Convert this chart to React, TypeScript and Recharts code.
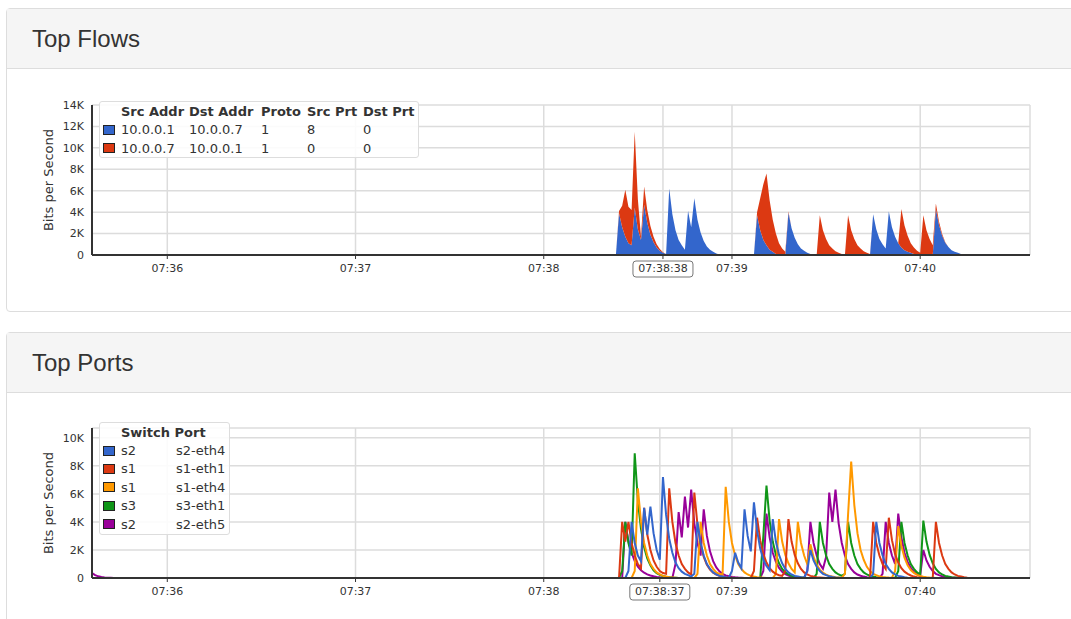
import React from 'react';
import { AreaChart, Area, LineChart, Line, XAxis, YAxis, CartesianGrid, Label } from 'recharts';

// time axis: seconds after 07:35:00, one sample per second from T0
const T0 = 200;
const T_END = 335;
const X_DOMAIN: [number, number] = [36, T_END];
const MINUTE_TICKS = [60, 120, 180, 240, 300];
const FLOWS_CURSOR = 218; // 07:38:38
const PORTS_CURSOR = 217; // 07:38:37

const FLOW_TICKS = [0, 2, 4, 6, 8, 10, 12, 14];
const PORT_TICKS = [0, 2, 4, 6, 8, 10];

// Top Flows, in K bits/s (stacked), t = 200..320
const FLOW_1 = [
  0, 0, 0, 0, 3.9, 2.6, 1.7, 1.1, 0.9, 4.4,
  2.4, 1.4, 4.7, 3.0, 1.9, 1.2, 0.7, 0.4, 0.2, 0.1,
  6.2, 3.8, 2.3, 1.4, 0.9, 0.5, 4.1, 2.6, 5.3, 3.3,
  2.1, 1.3, 0.8, 0.5, 0.3, 0.15, 0.05, 0, 0, 0,
  0, 0, 0, 0, 0, 0, 0, 0, 3.7, 2.3,
  1.4, 0.9, 0.5, 0.3, 0.1, 0, 0, 0, 3.95, 2.5,
  1.6, 1.0, 0.6, 0.4, 0.2, 0.1, 0, 0, 0, 0,
  0, 0, 0, 0, 0, 0, 0, 0, 0, 0,
  0, 0, 0, 0, 0, 3.8, 2.4, 1.5, 1.0, 0.6,
  4.05, 2.6, 1.7, 1.1, 0.7, 0.45, 0.3, 0.2, 0.1, 0.05,
  0, 0, 0, 0, 0, 4.3, 2.8, 1.8, 1.15, 0.75,
  0.45, 0.3, 0.2, 0.1, 0.05, 0.02, 0, 0, 0, 0, 0,
];
const FLOW_2 = [
  0, 0, 0, 0, 0.2, 2.0, 4.4, 3.4, 3.3, 7.1,
  2.8, 0.3, 1.7, 1.2, 0.8, 0.5, 0.3, 0.15, 0.05, 0,
  0, 0, 0, 0, 0, 0, 0, 0, 0, 0,
  0, 0, 0, 0, 0, 0, 0, 0, 0, 0,
  0, 0, 0, 0, 0, 0, 0, 0, 0.3, 3.0,
  5.2, 6.7, 4.6, 3.0, 1.9, 1.1, 0.6, 0.3, 0.1, 0,
  0, 0, 0, 0, 0, 0, 0, 0, 3.7, 2.3,
  1.5, 0.9, 0.6, 0.35, 0.2, 0.1, 0, 3.7, 2.3, 1.5,
  0.9, 0.6, 0.35, 0.2, 0.1, 0, 0, 0, 0, 0,
  0, 0, 0, 0, 3.6, 2.3, 1.5, 0.9, 0.6, 0.35,
  0.2, 3.7, 2.3, 1.5, 0.9, 0.5, 0.3, 0.15, 0.05, 0,
  0, 0, 0, 0, 0, 0, 0, 0, 0, 0, 0,
];

// Top Ports, in K bits/s, t = 200..320
const PORT_S2_ETH4 = [
  0, 0, 0, 0, 0, 0, 0, 0.5, 4.0, 2.5,
  1.6, 1.2, 5.0, 3.1, 5.1, 3.2, 2.0, 1.3, 7.2, 4.5,
  2.8, 1.8, 1.1, 0.7, 0.45, 0.3, 0.2, 0.1, 0.3, 4.0,
  2.5, 1.6, 1.0, 0.65, 0.4, 0.25, 0.15, 0.1, 0.05, 0.02,
  0.5, 1.8, 1.1, 0.7, 4.9, 3.0, 1.9, 5.4, 3.4, 2.1,
  1.3, 0.85, 0.55, 4.2, 2.6, 1.65, 1.05, 0.65, 0.4, 0.25,
  0.15, 0.1, 0.05, 0.03, 0.5, 2.0, 1.25, 0.8, 0.5, 0.3,
  0.2, 0.12, 0.07, 0.04, 0.02, 0, 0, 0, 0, 0,
  0, 0, 0, 0, 0, 0.3, 4.0, 2.5, 1.6, 1.0,
  0.65, 0.4, 0.25, 0.15, 0.1, 0.05, 0.02, 0, 0, 0,
  0, 0, 0, 0, 0, 0, 0, 0, 0, 0,
  0, 0, 0, 0, 0, 0, 0, 0, 0, 0, 0,
];
const PORT_S1_ETH1 = [
  0, 0, 0, 0, 0, 4.0, 2.6, 4.0, 2.5, 1.6,
  1.0, 0.7, 5.0, 3.1, 2.0, 1.25, 0.8, 0.5, 0.35, 0.3,
  6.4, 4.0, 2.5, 1.6, 1.0, 0.65, 0.4, 0.25, 6.1, 3.8,
  2.4, 1.5, 0.95, 0.6, 0.38, 0.24, 0.15, 0.1, 0.06, 0.04,
  0.02, 0, 0, 0, 0, 0, 0, 0.5, 4.3, 2.7,
  1.7, 1.1, 0.7, 0.45, 0.3, 0.2, 0.15, 0.5, 4.2, 2.6,
  1.65, 1.05, 0.65, 0.4, 0.25, 0.15, 0.1, 0.06, 0.04, 0.02,
  0, 0, 0, 0, 0, 0, 0, 0, 0, 0,
  0, 0, 0, 0, 0, 4.0, 2.5, 1.6, 1.0, 0.65,
  4.3, 2.7, 1.7, 1.1, 0.7, 0.45, 0.3, 0.18, 0.1, 0.06,
  0.03, 0, 0, 0, 0, 4.0, 2.5, 1.6, 1.0, 0.65,
  0.4, 0.25, 0.15, 0.1, 0.05, 0.02, 0, 0, 0, 0, 0,
];
const PORT_S1_ETH4 = [
  0, 0, 0, 0, 0, 0, 0, 0, 0, 0.5,
  6.4, 4.0, 2.5, 1.6, 1.0, 0.65, 0.4, 0.25, 0.15, 0.1,
  0.06, 0.04, 0.02, 0, 0, 0, 0, 0, 0, 0.3,
  4.0, 2.5, 1.6, 1.0, 0.65, 0.4, 0.3, 0.25, 6.5, 4.0,
  2.5, 1.6, 1.0, 0.65, 0.4, 0.25, 0.15, 0.1, 0.06, 0.04,
  0.02, 0, 0, 0, 0.3, 4.2, 2.6, 1.65, 1.05, 0.65,
  0.4, 4.0, 2.5, 1.6, 1.0, 2.4, 1.5, 0.95, 0.6, 0.38,
  0.24, 0.15, 0.1, 0.06, 0.04, 0.02, 0.3, 4.5, 8.3, 5.2,
  3.2, 2.0, 1.3, 0.8, 0.5, 0.3, 0.2, 0.12, 0.08, 0.05,
  0.03, 0.02, 0.5, 3.7, 2.3, 1.45, 0.9, 0.57, 0.36, 0.22,
  0.14, 0.09, 0.05, 0.03, 0.02, 0, 0, 0, 0, 0,
  0, 0, 0, 0, 0, 0, 0, 0, 0, 0, 0,
];
const PORT_S3_ETH1 = [
  0, 0, 0, 0, 0, 0.5, 4.0, 2.5, 1.6, 8.9,
  5.5, 3.5, 2.2, 1.4, 0.9, 0.55, 0.35, 0.22, 0.14, 0.09,
  0.05, 0.03, 0.02, 0, 0, 0, 0, 0, 0, 0,
  0, 0, 0, 0, 0, 0, 0, 0, 0, 0,
  0, 0, 0, 0, 0, 0, 0, 0, 0, 0,
  3.0, 6.6, 4.1, 2.6, 1.65, 1.05, 0.65, 0.4, 0.25, 0.15,
  0.1, 0.06, 0.04, 0.02, 0, 0, 0, 0.3, 4.0, 2.5,
  1.6, 1.0, 0.65, 0.4, 0.25, 0.15, 0.3, 4.0, 2.5, 1.6,
  1.0, 0.65, 0.4, 0.25, 0.15, 0.1, 0.06, 0.04, 0.02, 0,
  0, 0, 0, 0.5, 4.0, 2.5, 1.6, 1.0, 0.65, 0.4,
  0.25, 4.1, 2.6, 1.65, 1.05, 0.65, 0.4, 0.25, 0.15, 0.1,
  0.06, 0.04, 0.02, 0, 0, 0, 0, 0, 0, 0, 0,
];
const PORT_S2_ETH5 = [
  0, 0, 0, 0, 0, 0, 4.0, 2.6, 1.8, 1.2,
  0.8, 0.55, 0.38, 0.26, 0.18, 0.12, 0.08, 0.05, 0.03, 0.02,
  0.01, 0, 1.0, 4.7, 2.9, 5.8, 3.6, 6.3, 3.9, 2.5,
  1.6, 4.9, 3.0, 1.9, 1.2, 0.75, 0.48, 0.3, 0.19, 0.12,
  0.08, 0.05, 0.03, 0.02, 0, 0, 0, 0, 0, 0,
  0.5, 4.6, 2.9, 1.8, 1.15, 0.72, 0.45, 0.28, 0.18, 0.11,
  0.07, 0.04, 0.02, 0, 0.5, 4.0, 2.5, 1.6, 1.0, 0.65,
  1.5, 6.1, 4.0, 6.3, 3.9, 2.5, 1.6, 1.0, 0.65, 0.4,
  0.25, 0.16, 0.1, 0.06, 0.04, 0.02, 0, 0, 0.3, 4.0,
  2.5, 1.6, 1.0, 4.6, 2.9, 1.8, 1.15, 0.72, 0.45, 0.28,
  0.18, 2.0, 1.25, 0.8, 0.5, 0.3, 0.2, 0.12, 0.08, 0.05,
  0.03, 0.02, 0, 0, 0, 0, 0, 0, 0, 0, 0,
];
// s2-eth5 tail at the left edge, t = 36..43
const PORT_S2_ETH5_LEAD = [0.35, 0.2, 0.12, 0.07, 0.04, 0.02, 0.01, 0];

const FLOWS = [
  { key: 'f1', color: '#3366cc', cells: ['10.0.0.1', '10.0.0.7', '1', '8', '0'], values: FLOW_1 },
  { key: 'f2', color: '#dc3912', cells: ['10.0.0.7', '10.0.0.1', '1', '0', '0'], values: FLOW_2 },
];
const FLOW_HEADERS = ['Src Addr', 'Dst Addr', 'Proto', 'Src Prt', 'Dst Prt'];
const FLOW_COL_WIDTHS = [68, 72, 46, 56, 54];

const PORTS = [
  { key: 's2-eth4', sw: 's2', color: '#3366cc', values: PORT_S2_ETH4 },
  { key: 's1-eth1', sw: 's1', color: '#dc3912', values: PORT_S1_ETH1 },
  { key: 's1-eth4', sw: 's1', color: '#ff9900', values: PORT_S1_ETH4 },
  { key: 's3-eth1', sw: 's3', color: '#109618', values: PORT_S3_ETH1 },
  { key: 's2-eth5', sw: 's2', color: '#990099', values: PORT_S2_ETH5 },
];

const FONT = '"DejaVu Sans", sans-serif';
const TEXT = '#333';
const GRID = '#dcdcdc';

const flowData: Record<string, number>[] = [{ t: X_DOMAIN[0], f1: 0, f2: 0 }];
FLOW_1.forEach((_, i) => {
  flowData.push({ t: T0 + i, f1: FLOW_1[i], f2: FLOW_2[i] });
});
flowData.push({ t: T_END, f1: 0, f2: 0 });

const portRow = (t: number, i: number | null) => {
  const row: Record<string, number> = { t };
  PORTS.forEach((p) => {
    row[p.key] = i === null ? 0 : p.values[i];
  });
  return row;
};
const portData: Record<string, number>[] = [];
PORT_S2_ETH5_LEAD.forEach((v, i) => {
  const row = portRow(X_DOMAIN[0] + i, null);
  row['s2-eth5'] = v;
  portData.push(row);
});
PORT_S2_ETH4.forEach((_, i) => portData.push(portRow(T0 + i, i)));
portData.push(portRow(T_END, null));

const clock = (t: number) => {
  const s = 35 * 60 + t;
  const mm = String(Math.floor(s / 60)).padStart(2, '0');
  const ss = s % 60;
  return ss === 0 ? `07:${mm}` : `07:${mm}:${String(ss).padStart(2, '0')}`;
};

const kFormat = (v: number) => (v === 0 ? '0' : `${v}K`);

const TimeTick = (props: any) => {
  const { x, y, payload, cursor } = props;
  const label = clock(payload.value);
  if (payload.value === cursor) {
    return (
      <g>
        <rect x={x - 30} y={y - 3} width={60} height={16} rx={3} fill="#fff" stroke="#777" />
        <text x={x} y={y} dy="0.71em" textAnchor="middle" fontSize={11} fill={TEXT}>{label}</text>
      </g>
    );
  }
  return <text x={x} y={y} dy="0.71em" textAnchor="middle" fontSize={11} fill={TEXT}>{label}</text>;
};

const Swatch = ({ color }: { color: string }) => (
  <div style={{ width: 21, display: 'flex', alignItems: 'center' }}>
    <div style={{ marginLeft: 3, width: 10, height: 8, border: '1px solid #222', background: color }} />
  </div>
);

const legendBox: React.CSSProperties = {
  position: 'absolute',
  left: 99,
  boxSizing: 'border-box',
  border: '1px solid #ddd',
  borderRadius: 3,
  background: 'rgba(255,255,255,0.88)',
  fontSize: 13,
  color: TEXT,
  fontFamily: FONT,
};

const Panel = ({ top, title, titleTop }: { top: number; title: string; titleTop: number }) => (
  <div
    style={{
      position: 'absolute', left: 6, top, width: 1100, height: top === 8 ? 304 : 400,
      border: '1px solid #ddd', borderRadius: 4, background: '#fff', boxSizing: 'border-box',
    }}
  >
    <div style={{ height: 59, background: '#f5f5f5', borderBottom: '1px solid #ddd' }} />
    <div
      style={{
        position: 'absolute', left: 25, top: titleTop - top, fontSize: 24, lineHeight: '24px',
        fontFamily: '"Liberation Sans", Arial, sans-serif', color: TEXT,
      }}
    >
      {title}
    </div>
  </div>
);

const App: React.FC = () => {
  return (
    <div style={{ position: 'fixed', left: 0, top: 0, width: 1071, height: 619, overflow: 'hidden', background: '#fff', fontFamily: FONT }}>
      <Panel top={8} title="Top Flows" titleTop={26} />
      <Panel top={332} title="Top Ports" titleTop={350} />

      <div style={{ position: 'absolute', left: 0, top: 80 }}>
        <AreaChart width={1071} height={210} data={flowData} margin={{ top: 25, right: 41, bottom: 10, left: 52 }}>
          <CartesianGrid stroke={GRID} strokeWidth={1.5} />
          {FLOWS.map((f) => (
            <Area
              key={f.key}
              dataKey={f.key}
              stackId="flows"
              type="linear"
              stroke="none"
              fill={f.color}
              fillOpacity={1}
              isAnimationActive={false}
            />
          ))}
          <XAxis
            dataKey="t"
            type="number"
            domain={X_DOMAIN}
            allowDataOverflow
            ticks={[...MINUTE_TICKS, FLOWS_CURSOR]}
            interval={0}
            height={25}
            tickSize={4}
            tickMargin={5}
            axisLine={{ stroke: TEXT, strokeWidth: 2 }}
            tickLine={{ stroke: TEXT }}
            tick={(p: any) => <TimeTick {...p} cursor={FLOWS_CURSOR} />}
          />
          <YAxis
            type="number"
            domain={[0, 14]}
            ticks={FLOW_TICKS}
            interval={0}
            width={40}
            tickLine={false}
            axisLine={{ stroke: TEXT, strokeWidth: 2 }}
            tick={{ fontSize: 11, fill: TEXT }}
            tickFormatter={kFormat}
          >
            <Label value="Bits per Second" angle={-90} position="insideLeft" offset={-4} style={{ textAnchor: 'middle', fontSize: 13, fill: TEXT }} />
          </YAxis>
        </AreaChart>
      </div>

      <div style={{ ...legendBox, top: 101, width: 320, height: 57 }}>
        <div style={{ display: 'flex', height: 18.5, alignItems: 'center', fontWeight: 'bold' }}>
          <div style={{ width: 21 }} />
          {FLOW_HEADERS.map((h, i) => (
            <div key={h} style={{ width: FLOW_COL_WIDTHS[i], whiteSpace: 'nowrap' }}>{h}</div>
          ))}
        </div>
        {FLOWS.map((f) => (
          <div key={f.key} style={{ display: 'flex', height: 18.5, alignItems: 'center' }}>
            <Swatch color={f.color} />
            {f.cells.map((c, i) => (
              <div key={i} style={{ width: FLOW_COL_WIDTHS[i], whiteSpace: 'nowrap' }}>{c}</div>
            ))}
          </div>
        ))}
      </div>

      <div style={{ position: 'absolute', left: 0, top: 400 }}>
        <LineChart width={1071} height={210} data={portData} margin={{ top: 28, right: 41, bottom: 7, left: 52 }}>
          <CartesianGrid stroke={GRID} strokeWidth={1.5} />
          <XAxis
            dataKey="t"
            type="number"
            domain={X_DOMAIN}
            allowDataOverflow
            ticks={[...MINUTE_TICKS, PORTS_CURSOR]}
            interval={0}
            height={25}
            tickSize={4}
            tickMargin={5}
            axisLine={{ stroke: TEXT, strokeWidth: 2 }}
            tickLine={{ stroke: TEXT }}
            tick={(p: any) => <TimeTick {...p} cursor={PORTS_CURSOR} />}
          />
          <YAxis
            type="number"
            domain={[0, 10.7]}
            ticks={PORT_TICKS}
            interval={0}
            width={40}
            tickLine={false}
            axisLine={{ stroke: TEXT, strokeWidth: 2 }}
            tick={{ fontSize: 11, fill: TEXT }}
            tickFormatter={kFormat}
          >
            <Label value="Bits per Second" angle={-90} position="insideLeft" offset={-4} style={{ textAnchor: 'middle', fontSize: 13, fill: TEXT }} />
          </YAxis>
          {[...PORTS].reverse().map((p) => (
            <Line
              key={p.key}
              dataKey={p.key}
              type="linear"
              stroke={p.color}
              strokeWidth={2}
              dot={false}
              isAnimationActive={false}
            />
          ))}
        </LineChart>
      </div>

      <div style={{ ...legendBox, top: 422, width: 131, height: 113 }}>
        <div style={{ display: 'flex', height: 18.4, alignItems: 'center', fontWeight: 'bold' }}>
          <div style={{ width: 21 }} />
          <div style={{ whiteSpace: 'nowrap' }}>Switch Port</div>
        </div>
        {PORTS.map((p) => (
          <div key={p.key} style={{ display: 'flex', height: 18.4, alignItems: 'center' }}>
            <Swatch color={p.color} />
            <div style={{ width: 55 }}>{p.sw}</div>
            <div style={{ whiteSpace: 'nowrap' }}>{p.key}</div>
          </div>
        ))}
      </div>
    </div>
  );
};

export default App;
